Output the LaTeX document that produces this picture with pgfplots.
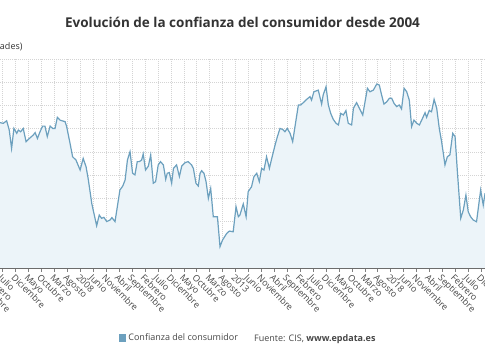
\documentclass[border=0pt]{standalone}
\usepackage{pgfplots}
\pgfplotsset{compat=1.18}
\usepackage{pgfplotstable}
\usepackage{fontspec}
\setmainfont{Open Sans}
\definecolor{linec}{RGB}{108,160,190}
\definecolor{fillc}{RGB}{236,244,249}
\definecolor{gridc}{RGB}{212,212,212}
\definecolor{txt}{RGB}{70,70,70}
\definecolor{ttl}{RGB}{51,51,51}

\pgfplotstableread{
m v
16.9 92.6
18.2 92.3
19.5 93.4
20.5 89.4
21.4 81.5
22.3 90.1
23.4 88.0
24.0 89.4
24.9 88.7
25.9 90.1
27.0 84.4
28.3 85.8
29.8 87.3
30.5 88.3
31.4 85.8
32.4 88.7
33.4 91.1
34.3 91.1
35.2 86.6
36.3 91.1
37.3 90.1
38.2 90.1
39.1 94.9
40.1 93.7
42.1 93.0
42.7 90.9
44.0 83.7
45.0 77.9
46.3 76.5
47.9 72.2
49.1 77.2
50.2 73.6
51.1 67.9
52.4 57.8
54.3 48.2
55.3 52.8
56.2 51.4
57.1 51.8
58.2 50.0
59.5 50.7
60.2 51.7
61.4 50.0
63.3 63.6
64.4 65.3
65.3 67.9
66.2 76.5
67.2 80.1
68.2 70.8
69.1 70.1
70.0 75.8
70.8 75.8
71.7 76.5
72.3 79.1
73.2 72.2
74.3 73.9
75.2 78.7
76.2 66.5
77.1 67.2
78.1 74.4
79.0 75.8
80.1 74.4
81.0 68.2
81.6 70.8
82.4 71.1
83.3 66.5
84.0 72.9
85.2 74.4
86.3 69.4
87.2 73.9
88.5 75.4
89.7 75.8
91.0 74.4
91.7 72.9
92.7 66.5
93.6 65.3
94.3 70.8
94.9 71.9
95.8 70.8
96.6 67.2
97.5 60.0
98.4 64.3
99.4 52.1
101.0 52.1
102.0 39.2
103.0 42.1
104.6 44.9
105.6 45.9
107.1 45.6
108.2 56.4
109.1 52.1
109.7 52.8
111.0 57.6
112.1 52.1
112.9 62.9
114.2 65.0
115.1 69.3
116.2 70.8
117.2 67.2
118.1 72.9
119.0 72.2
120.0 77.9
121.1 72.9
122.0 77.2
123.3 83.0
124.2 86.6
125.2 90.1
126.2 89.7
127.1 88.7
128.0 90.1
129.1 88.0
130.1 84.4
131.0 90.9
132.3 100.2
133.2 100.2
134.2 101.2
135.5 102.6
136.8 103.8
137.4 102.3
138.3 105.9
140.0 106.6
141.3 100.6
141.9 104.5
143.0 108.1
143.9 100.2
144.8 96.6
145.8 94.0
146.9 92.3
147.8 91.6
148.7 96.6
149.7 95.9
150.7 97.8
151.6 92.3
152.9 91.6
153.6 98.8
154.8 101.2
155.9 98.8
157.2 95.9
159.0 107.4
160.0 105.9
161.3 106.6
162.6 109.2
163.6 108.8
164.5 104.5
165.4 100.6
166.5 101.6
167.5 103.1
168.4 103.1
169.3 100.9
170.3 99.5
171.3 100.2
172.2 98.5
173.2 107.4
174.2 105.9
175.2 102.3
176.1 90.9
177.0 93.7
178.1 92.3
179.1 91.6
180.0 93.7
181.3 96.9
181.9 94.9
182.9 97.8
183.8 97.3
184.8 102.6
185.8 98.8
186.8 90.1
187.7 84.4
189.0 74.4
189.9 77.9
190.9 78.7
192.0 88.0
192.9 86.6
193.8 71.5
195.1 51.4
196.1 55.0
197.1 61.4
198.0 54.2
198.9 52.1
199.9 50.7
201.2 49.9
202.8 63.6
203.8 57.1
204.5 62.2
}\icc

\begin{document}
\begin{tikzpicture}
\useasboundingbox (0,0) rectangle (485bp,360bp);
\clip (0,0) rectangle (485bp,360bp);
\begin{axis}[
  at={(-43.75bp,92bp)}, anchor=south west,
  scale only axis, width=528.7bp, height=209bp,
  xmin=0, xmax=204.46, ymin=30, ymax=120,
  axis x line*=bottom, axis y line*=left,
  y axis line style={draw=none},
  x axis line style={draw=gray!85!black, line width=0.8bp},
  xtick={3,8,...,203},
  xticklabels={Abril,Septiembre,Febrero,Julio,Diciembre,Mayo,Octubre,Marzo,Agosto,2008,Junio,Noviembre,Abril,Septiembre,Febrero,Julio,Diciembre,Mayo,Octubre,Marzo,Agosto,2013,Junio,Noviembre,Abril,Septiembre,Febrero,Julio,Diciembre,Mayo,Octubre,Marzo,Agosto,2018,Junio,Noviembre,Abril,Septiembre,Febrero,Julio,Diciembre},
  ytick={30,40,...,120}, yticklabels={}, ytick style={draw=none},
  grid=major,
  major grid style={gridc, dash pattern=on 1bp off 1bp, line width=0.6bp},
  xtick style={draw=gray, line width=0.6bp},
  xtick align=outside, major tick length=4bp,
  xticklabel style={rotate=-45, anchor=north west, font=\fontsize{9bp}{10bp}\selectfont, text=txt, inner sep=1bp},
  legend style={at={(0.3078,-0.335)}, anchor=west, draw=none, fill=none,
    font=\fontsize{9bp}{10bp}\selectfont, text=txt, inner xsep=0pt},
  legend image code/.code={\fill[linec] (0bp,-3bp) rectangle (6bp,3bp);},
]
\addplot[draw=none, fill=fillc, forget plot] table[x=m, y=v] {\icc} \closedcycle;
\addplot[linec, line width=1.2bp, mark=none] table[x=m, y=v] {\icc};
\addlegendentry{Confianza del consumidor}
\end{axis}
\node[anchor=base, font=\bfseries\fontsize{13.5bp}{16bp}\selectfont, text=ttl] at (242.5bp,332.7bp) {Evolución de la confianza del consumidor desde 2004};
\node[anchor=base east, font=\fontsize{9bp}{10bp}\selectfont, text=ttl, inner sep=0pt] at (22.7bp,310bp) {(Unidades)};
\node[anchor=base west, font=\fontsize{9bp}{10bp}\selectfont, text=txt, inner sep=0pt] at (254bp,18.5bp) {Fuente: CIS, \textbf{www.epdata.es}};
\end{tikzpicture}
\end{document}
